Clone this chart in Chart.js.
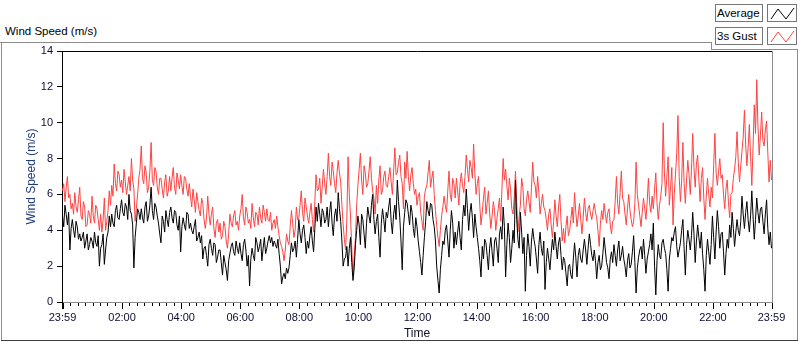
<!DOCTYPE html>
<html>
<head>
<meta charset="utf-8">
<script src="https://cdn.jsdelivr.net/npm/chart.js@4.4.1/dist/chart.umd.min.js"></script>
<style>
  html, body { margin: 0; padding: 0; background: #fff; }
  #wrap { position: relative; width: 800px; height: 342px; overflow: hidden;
          font-family: "Liberation Sans", Arial, sans-serif; color: #000; }
  #wrap canvas { position: absolute; left: 0; top: 0; }
  .ln { position: absolute; background: #8c8c8c; }
  .lbl { position: absolute; font-size: 11.5px; line-height: 14px; white-space: nowrap; }
  .lg { position: absolute; box-sizing: border-box; border: 1px solid #767676; background: #fff;
        font-size: 11.5px; line-height: 16px; padding-left: 1px; white-space: nowrap; }
  .sw { position: absolute; box-sizing: border-box; border: 1px solid #767676; background: #fff; }
  .sw svg { position: absolute; left: 0; top: 0; }
</style>
</head>
<body>
<div id="wrap">
  <div class="ln" style="left:0;top:42px;width:711px;height:1px"></div>
  <div class="ln" style="left:711px;top:42px;width:1px;height:8px"></div>
  <div class="ln" style="left:711px;top:49px;width:87px;height:1px"></div>
  <div class="ln" style="left:797px;top:49px;width:1px;height:292px"></div>
  <div class="ln" style="left:1px;top:42px;width:1px;height:299px"></div>
  <div class="ln" style="left:1px;top:340px;width:797px;height:1px;background:#3c3c3c"></div>
  <div class="lbl" style="left:5px;top:24px">Wind Speed (m/s)</div>
  <div class="lg" style="left:715px;top:4px;width:48px;height:18px">Average</div>
  <div class="sw" style="left:767px;top:4px;width:30px;height:18px">
    <svg width="30" height="18"><polyline points="3,14 10,4 18,14 26,3" fill="none" stroke="#000" stroke-width="1"/></svg>
  </div>
  <div class="lg" style="left:715px;top:27px;width:48px;height:18px">3s Gust</div>
  <div class="sw" style="left:767px;top:27px;width:30px;height:18px">
    <svg width="30" height="18"><polyline points="3,14 10,4 18,14 26,3" fill="none" stroke="#ff4242" stroke-width="1"/></svg>
  </div>
  <canvas id="c" width="800" height="342"></canvas>
</div>
<script>
// ---- data (one sample every 2.5 minutes, starting 23:59) ----
const SAMPLE_STEP_MIN = 2.5;

const averageSpeed = [
  // 23:59 - ~06:00
  4.8,4.2,5.4,4.9,4.3,5.0,2.9,4.1, 4.6,4.0,3.6,4.5,4.2,3.5,3.8,3.4, 3.6,3.9,3.0,3.4,3.8,2.9,3.2,3.6,
  3.4,3.0,3.9,3.3,3.1,3.7,2.0,3.0, 3.2,3.8,2.1,2.9,3.6,3.9,4.8,4.2, 4.9,4.4,4.2,5.1,5.4,4.7,4.6,5.2,
  5.7,5.0,4.8,5.5,5.3,4.6,6.0,5.1, 4.9,4.3,1.9,3.6,4.4,5.2,5.0,4.6, 5.2,4.7,4.4,5.3,5.6,4.5,4.8,5.4,
  6.4,5.1,4.6,5.5,5.3,4.8,4.4,3.8, 3.3,4.8,4.5,3.9,5.1,4.6,4.2,5.0, 5.3,4.7,4.4,5.1,5.0,4.3,4.0,4.8,
  2.8,4.2,4.7,4.3,4.0,5.0,4.9,4.1, 4.4,4.0,3.8,4.2,4.6,3.4,3.6,3.9, 3.3,3.7,2.4,3.0,3.1,2.6,2.0,3.2,
  3.5,3.0,2.6,3.3,3.2,2.2,2.5,2.9, 2.9,2.2,1.5,2.6,2.2,1.8,1.2,2.3, 2.7,3.1,3.3,2.8,2.6,3.4,3.0,2.7,
  // ~06:00 - ~12:00
  3.3,2.7,2.3,3.2,3.5,2.9,2.0,2.6, 0.9,2.4,3.0,2.6,2.3,3.6,3.3,2.8, 3.1,3.5,2.3,3.0,3.6,2.7,3.0,3.4,
  3.7,3.3,3.6,3.1,3.4,3.2,3.0,3.5, 2.7,2.0,1.0,1.4,1.6,1.3,1.9,1.6, 1.9,2.6,3.3,2.8,3.0,3.4,2.5,3.5,
  4.6,3.8,3.3,4.0,4.3,3.6,2.7,3.4, 3.0,3.7,4.2,3.4,2.8,4.1,5.3,4.5, 5.5,4.9,4.2,5.2,5.0,4.4,4.6,5.3,
  4.2,5.0,5.6,4.4,3.7,4.8,5.2,4.5, 6.1,5.2,4.5,3.4,2.0,2.4,2.5,3.1, 2.0,3.0,3.6,2.2,1.2,1.9,3.2,4.0,
  4.8,4.3,3.2,4.9,4.6,3.8,3.0,4.4, 5.3,4.8,4.4,5.4,6.0,4.6,3.8,4.5, 4.9,3.6,2.5,4.4,5.2,4.6,3.9,5.0,
  4.7,5.3,5.8,4.5,3.8,4.9,5.4,4.6, 6.8,5.6,4.7,3.4,1.8,4.2,5.0,5.7, 5.5,4.9,4.3,5.4,5.0,4.1,3.6,4.7,
  // ~12:00 - ~18:00
  4.2,3.4,2.8,2.2,1.5,2.6,3.6,4.5, 5.6,5.1,4.8,5.5,5.4,4.6,4.2,3.4, 2.0,1.2,0.5,1.8,2.6,3.4,3.2,4.0,
  4.3,3.4,2.5,4.0,5.1,4.4,3.0,3.9, 3.2,3.9,4.5,3.6,2.9,4.6,5.4,4.8, 6.3,5.2,4.0,5.0,5.5,4.7,3.6,4.9,
  4.2,3.6,3.0,2.3,1.4,3.1,2.4,3.5, 3.3,2.6,1.8,3.0,3.6,2.8,2.0,3.4, 3.6,3.0,2.2,3.8,4.2,3.5,5.3,4.2,
  1.4,3.2,4.4,3.6,2.2,3.0,4.0,3.3, 6.8,4.6,3.5,3.0,5.0,3.9,2.7,3.6, 0.6,2.6,3.8,3.1,2.0,3.4,4.1,3.5,
  3.1,2.4,1.6,3.2,3.9,3.0,2.6,3.4, 0.7,2.2,3.0,2.4,1.8,2.7,3.5,2.9, 3.9,3.1,2.4,3.3,3.6,2.6,1.8,2.5,
  2.3,1.6,0.9,2.0,2.1,1.5,1.3,2.4, 3.3,2.5,1.4,2.6,3.0,2.4,2.2,2.9, 3.5,2.9,2.1,3.0,3.8,3.2,2.6,2.3,
  // ~18:00 - 23:59
  2.9,2.3,1.3,2.2,2.6,1.8,2.0,2.7, 3.6,2.9,2.2,1.9,1.3,2.4,2.8,2.2, 3.2,2.6,2.0,2.9,3.4,2.3,2.6,3.1,
  2.4,2.0,1.4,2.3,2.7,1.9,2.1,2.8, 3.7,2.2,0.5,1.9,2.5,2.9,3.1,2.4, 3.5,2.6,1.6,2.4,2.8,3.2,3.8,2.9,
  4.4,2.0,0.4,2.3,3.2,2.6,2.4,3.3, 3.5,3.0,2.7,1.8,0.6,2.4,3.0,3.6, 3.4,3.9,4.2,3.1,2.5,2.9,3.3,4.0,
  4.6,3.0,1.5,3.2,4.0,3.5,2.9,3.7, 5.0,3.8,2.2,3.4,4.3,3.6,3.0,3.9, 2.7,1.8,0.6,2.6,3.5,2.8,2.1,3.2,
  4.8,3.6,2.4,3.9,5.1,4.2,3.0,3.8, 3.9,2.8,1.5,2.7,3.5,3.0,4.3,3.6, 5.0,4.1,3.1,3.9,4.6,4.0,3.7,4.5,
  5.9,4.9,4.1,5.0,5.6,4.6,3.9,4.8, 6.2,4.8,3.5,4.6,5.8,5.0,4.4,5.2, 5.3,4.5,3.8,4.9,5.7,4.1,3.2,3.9,
  3.0
];

const gustSpeed = [
  // 23:59 - ~06:00
  6.2,6.6,5.6,6.4,7.0,5.8,6.0,5.2, 5.5,4.9,6.1,5.3,5.0,5.7,6.4,4.8, 4.6,5.6,5.3,4.2,4.3,5.1,4.9,4.4,
  5.9,4.8,4.4,5.4,5.2,4.6,4.0,4.9, 3.9,4.6,5.8,4.0,4.5,5.1,6.2,5.4, 6.5,5.9,7.7,6.6,6.2,7.3,7.1,6.4,
  6.8,6.1,7.4,6.7,6.0,6.5,7.0,6.2, 8.0,6.8,6.3,4.5,5.2,6.0,6.9,7.4, 8.7,6.9,6.6,7.6,7.2,6.1,6.4,7.3,
  8.9,6.8,6.5,7.5,7.3,6.4,6.0,6.9, 6.9,6.3,5.8,6.7,7.1,5.9,6.2,7.0, 6.2,6.9,7.5,6.4,6.0,7.2,6.8,6.3,
  7.1,6.5,6.0,7.0,6.9,6.3,5.9,6.6, 5.9,5.3,6.3,5.7,5.0,6.1,5.6,5.1, 4.8,5.8,5.5,4.6,4.1,4.7,5.9,4.9,
  4.3,4.9,5.3,4.1,3.6,4.4,4.6,3.9, 4.4,3.5,3.7,4.5,4.2,3.4,3.0,3.8, 4.9,4.4,4.2,4.8,5.1,4.3,4.5,4.0,
  // ~06:00 - ~12:00
  4.8,5.2,6.0,4.7,4.3,5.3,5.0,4.4, 4.6,4.1,5.5,4.7,4.2,5.0,4.9,4.3, 5.3,4.7,4.4,5.4,5.0,4.5,5.2,4.6,
  4.5,5.0,4.0,4.4,4.6,4.1,4.8,4.2, 3.7,3.3,3.1,2.8,2.3,2.9,3.8,3.4, 3.2,4.2,5.1,4.4,3.6,4.0,5.3,4.6,
  4.7,5.4,6.2,5.0,4.5,5.8,5.3,4.8, 4.4,5.0,5.5,4.6,3.9,5.6,7.1,6.2, 6.3,6.9,5.5,6.4,7.4,6.6,6.0,7.0,
  8.3,7.0,6.5,7.8,7.3,6.6,6.1,7.2, 7.9,7.2,6.7,5.4,4.3,3.5,2.9,4.6, 8.1,6.0,4.8,3.0,1.5,2.6,3.6,5.4,
  6.5,7.4,8.3,6.8,6.0,7.6,7.2,6.4, 6.6,7.3,8.1,6.9,6.2,5.8,4.9,6.5, 5.5,6.8,7.6,6.0,6.2,7.0,7.3,6.5,
  6.4,7.0,7.5,6.7,6.0,7.3,8.6,7.1, 7.2,7.8,8.2,7.0,6.6,5.2,7.8,6.9, 8.4,7.0,6.2,7.1,7.5,6.6,6.0,6.3,
  // ~12:00 - ~18:00
  5.4,5.9,6.1,5.0,4.5,4.0,5.9,6.3, 6.5,7.2,7.9,6.4,6.9,7.3,6.0,5.1, 4.3,3.6,3.1,4.0,4.8,5.3,5.9,5.4,
  5.0,6.2,7.3,6.0,5.6,6.9,6.6,5.8, 6.9,6.2,5.4,6.6,7.2,6.5,6.1,7.0, 8.2,7.4,6.7,7.9,7.5,6.9,8.8,7.2,
  6.0,6.6,7.0,5.4,4.3,5.0,5.8,6.4, 4.9,5.5,6.2,5.0,4.1,4.8,5.6,5.1, 4.0,4.7,5.2,5.8,4.5,6.3,8.0,6.8,
  7.4,6.5,5.7,6.9,6.3,5.2,4.9,5.8, 7.3,5.6,3.9,4.8,5.4,6.9,6.4,5.2, 4.8,5.7,6.2,5.6,5.0,6.4,7.8,6.7,
  6.5,5.8,7.0,6.1,4.9,5.5,6.0,5.3, 5.1,4.6,4.0,4.9,5.2,4.3,3.6,4.5, 5.7,4.8,4.2,5.3,6.0,4.5,3.4,4.1,
  3.3,4.2,4.8,3.7,4.0,4.6,5.3,4.4, 6.1,5.0,4.2,4.8,5.5,4.6,3.8,4.7, 5.8,5.0,4.5,5.2,5.4,4.9,4.6,5.1,
  // ~18:00 - 23:59
  5.5,5.0,4.7,4.0,3.1,4.4,5.1,4.6, 5.5,4.9,4.4,5.0,5.2,4.3,3.8,4.5, 4.6,5.6,7.0,5.5,4.9,6.1,7.3,5.8,
  5.6,4.9,4.3,5.2,6.0,5.1,4.6,4.2, 4.5,5.5,7.8,6.0,5.4,4.8,4.2,5.0, 5.8,5.2,4.6,5.6,6.9,5.5,5.0,5.9,
  5.2,6.3,7.2,5.5,4.6,5.4,5.9,6.6, 10.0,7.2,5.9,7.0,8.1,5.4,6.4,7.5, 4.3,6.0,7.1,8.3,10.4,7.0,5.6,6.8,
  8.9,6.6,5.5,6.8,7.9,7.1,6.0,7.4, 9.4,7.5,6.4,7.7,8.2,6.8,5.6,6.9, 7.5,5.8,4.6,5.9,6.9,6.0,5.3,6.4,
  5.8,7.6,9.4,7.2,6.5,7.3,8.0,6.9, 7.1,6.0,5.2,6.3,6.8,5.6,4.7,6.0, 6.1,6.9,7.4,8.1,9.5,7.8,6.7,7.6,
  8.4,9.2,10.7,8.8,7.6,8.6,9.9,8.1, 6.5,8.6,11.0,9.4,12.4,9.8,8.2,9.3, 10.6,9.0,8.7,9.6,10.1,8.3,6.7,7.9,
  6.8
];

const yTickValues = [0, 2, 4, 6, 8, 10, 12, 14];
const xMajorLabels = ['23:59','02:00','04:00','06:00','08:00','10:00','12:00','14:00','16:00','18:00','20:00','22:00','23:59'];
const xMajorMinutes = [0, 121, 241, 361, 481, 601, 721, 841, 961, 1081, 1201, 1321, 1440];
const X_MINOR_STEP = 15;   // minor tick every 15 min, from 00:00
const X_END = 1440;

const toPoints = arr => arr.map((v, i) => ({ x: i * SAMPLE_STEP_MIN, y: v }));

function isMajorTick(v) {
  return xMajorMinutes.includes(v) || (v >= 1 && (v - 1) % 120 === 0);
}

const framePlugin = {
  id: 'lvFrame',
  afterDraw(chart) {
    const { ctx, chartArea: a, scales: { x } } = chart;
    ctx.save();
    ctx.lineWidth = 1;
    ctx.strokeStyle = '#000';
    ctx.beginPath();
    ctx.moveTo(a.left, Math.round(a.top) + 0.5);
    ctx.lineTo(a.right + 1, Math.round(a.top) + 0.5);
    ctx.stroke();
    ctx.strokeStyle = '#8c8c8c';
    ctx.beginPath();
    ctx.moveTo(Math.round(a.right) + 0.5, a.top);
    ctx.lineTo(Math.round(a.right) + 0.5, a.bottom + 1);
    ctx.stroke();
    ctx.strokeStyle = '#000';
    x.ticks.forEach(t => {
      const px = Math.round(x.getPixelForValue(t.value)) + 0.5;
      const len = isMajorTick(t.value) ? 6 : 3;
      ctx.beginPath();
      ctx.moveTo(px, a.bottom + 1);
      ctx.lineTo(px, a.bottom + 1 + len);
      ctx.stroke();
    });
    ctx.restore();
  }
};

const FONT = '"Liberation Sans", Arial, sans-serif';

new Chart(document.getElementById('c'), {
  type: 'line',
  data: {
    datasets: [
      { label: 'Average', data: toPoints(averageSpeed), borderColor: '#000000',
        borderWidth: 1, pointRadius: 0, tension: 0, borderJoinStyle: 'bevel', fill: false },
      { label: '3s Gust', data: toPoints(gustSpeed), borderColor: '#ff4242',
        borderWidth: 1, pointRadius: 0, tension: 0, borderJoinStyle: 'bevel', fill: false }
    ]
  },
  options: {
    responsive: false,
    animation: false,
    devicePixelRatio: 1,
    parsing: false,
    layout: { padding: { top: 51, right: 28, left: 0, bottom: 0 } },
    plugins: { legend: { display: false }, tooltip: { enabled: false }, title: { display: false } },
    scales: {
      x: {
        type: 'linear',
        min: -1,
        max: X_END + 1,
        afterBuildTicks(scale) {
          const t = [0];
          for (let m = 1; m < X_END; m += X_MINOR_STEP) t.push(m);
          t.push(X_END);
          scale.ticks = t.map(v => ({ value: v }));
        },
        afterFit(scale) { scale.height = 40; },
        grid: { display: false, drawTicks: false, tickLength: 0 },
        border: { display: true, color: '#8c8c8c', width: 1 },
        ticks: {
          autoSkip: false,
          maxRotation: 0,
          padding: 9,
          color: '#0d0d33',
          font: { family: FONT, size: 11 },
          callback(value) {
            const i = xMajorMinutes.indexOf(value);
            return i >= 0 ? xMajorLabels[i] : '';
          }
        },
        title: { display: true, text: 'Time', color: '#101020',
                 font: { family: FONT, size: 12 }, padding: { top: 0, bottom: 1 } }
      },
      y: {
        min: 0,
        max: 14,
        afterBuildTicks(scale) { scale.ticks = yTickValues.map(v => ({ value: v })); },
        afterFit(scale) { scale.width = 62; },
        grid: { drawOnChartArea: false, tickLength: 5, tickColor: '#000' },
        border: { display: true, color: '#000', width: 1 },
        ticks: { padding: 4, color: '#0d0d33', font: { family: FONT, size: 11 } },
        title: { display: true, text: 'Wind Speed (m/s)', color: '#1e3c78',
                 font: { family: FONT, size: 12 }, padding: { top: 24, bottom: 0 } }
      }
    }
  },
  plugins: [framePlugin]
});
</script>
</body>
</html>
